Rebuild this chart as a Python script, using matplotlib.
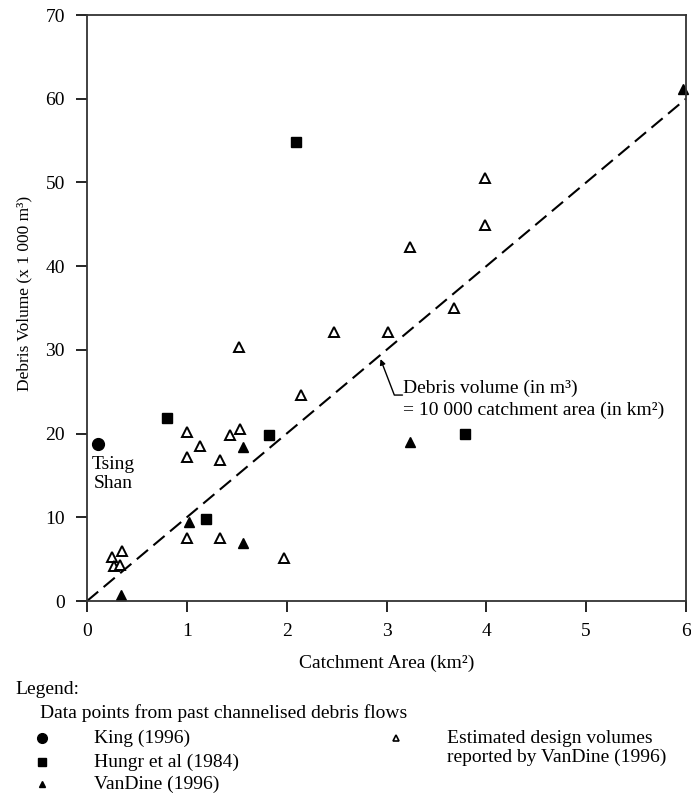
import matplotlib
matplotlib.use("Agg")
import matplotlib.pyplot as plt
from matplotlib.lines import Line2D

plt.rcParams['font.family'] = ['Liberation Serif', 'DejaVu Serif']

# King (1996) - Tsing Shan
king_x = [0.11]
king_y = [18.8]

# Hungr et al (1984)
hungr_x = [0.80, 1.19, 1.82, 2.09, 3.79]
hungr_y = [21.9, 9.8, 19.8, 54.8, 19.9]

# VanDine (1996)
vandine_x = [0.34, 1.02, 1.56, 1.56, 3.24, 5.97]
vandine_y = [0.7, 9.4, 18.4, 6.9, 19.0, 61.2]

# Estimated design volumes reported by VanDine (1996)
est_x = [0.25, 0.27, 0.33, 0.35, 1.0, 1.0, 1.0, 1.13, 1.33, 1.33, 1.43, 1.52, 1.53,
         1.97, 2.14, 2.47, 3.02, 3.24, 3.68, 3.99, 3.99]
est_y = [5.2, 4.2, 4.3, 6.0, 20.2, 17.2, 7.5, 18.5, 16.8, 7.5, 19.8, 30.4, 20.6,
         5.1, 24.6, 32.1, 32.1, 42.3, 35.0, 50.5, 44.9]

# design line: volume = 10 000 x catchment area
line_x = [0, 6]
line_y = [0, 60]

xticks = [0, 1, 2, 3, 4, 5, 6]
yticks = [0, 10, 20, 30, 40, 50, 60, 70]

fs = 14
fig = plt.figure(figsize=(6.91, 7.96), dpi=100)
ax = fig.add_axes([87 / 691, 1 - 601 / 796, 599 / 691, 586 / 796])

ax.plot(line_x, line_y, color='black', lw=1.5, dashes=(7, 3.4))
ax.plot(king_x, king_y, 'o', color='black', ms=8.5, clip_on=False)
ax.plot(hungr_x, hungr_y, 's', color='black', ms=7)
ax.plot(vandine_x, vandine_y, '^', color='black', ms=6.5, clip_on=False)
ax.plot(est_x, est_y, '^', mfc='white', mec='black', mew=1.4, ms=6.5)

ax.text(0.26, 15.2, "Tsing\nShan", ha='center', va='center', fontsize=fs, linespacing=1.15)

ax.text(3.17, 24.1, "Debris volume (in m³)\n= 10 000 catchment area (in km²)",
        ha='left', va='center', fontsize=fs, linespacing=1.3)
ax.annotate("", xy=(2.94, 28.9), xytext=(3.16, 24.6),
            arrowprops=dict(arrowstyle='-|>', color='black', lw=1.0,
                            mutation_scale=8, shrinkA=0, shrinkB=0,
                            connectionstyle='angle,angleA=0,angleB=111,rad=0'))

ax.set_xlim(0, 6)
ax.set_ylim(0, 70)
ax.set_xticks(xticks)
ax.set_yticks(yticks)
ax.tick_params(direction='out', length=8, width=1.2, labelsize=fs)
ax.tick_params(axis='x', pad=8)
ax.tick_params(axis='y', pad=8)
for s in ax.spines.values():
    s.set_linewidth(1.3)
    s.set_color('#333333')

ax.set_xlabel("Catchment Area (km²)", fontsize=fs)
ax.set_ylabel("Debris Volume (x 1 000 m³)", fontsize=12.5)
ax.xaxis.set_label_coords(0.5, -0.091)
ax.yaxis.set_label_coords(-0.092, 0.525)

# legend block below the chart
fig.text(15 / 691, 1 - 689 / 796, "Legend:", fontsize=fs, va='center')
fig.text(40 / 691, 1 - 713 / 796, "Data points from past channelised debris flows",
         fontsize=fs, va='center')
leg_rows = [('o', 7, 738, "King (1996)"),
            ('s', 5.5, 762, "Hungr et al (1984)"),
            ('^', 5, 784, "VanDine (1996)")]
for m, ms, y, lab in leg_rows:
    fig.add_artist(Line2D([42 / 691], [1 - y / 796], marker=m, color='black',
                          ms=ms, transform=fig.transFigure))
    fig.text(94 / 691, 1 - y / 796, lab, fontsize=fs, va='center')
fig.add_artist(Line2D([396 / 691], [1 - 738 / 796], marker='^', mfc='white', mec='black',
                      mew=1.2, ms=5, transform=fig.transFigure))
fig.text(447 / 691, 1 - 748 / 796, "Estimated design volumes\nreported by VanDine (1996)",
         fontsize=fs, va='center', linespacing=1.1)

fig.savefig("out.png", dpi=100)
